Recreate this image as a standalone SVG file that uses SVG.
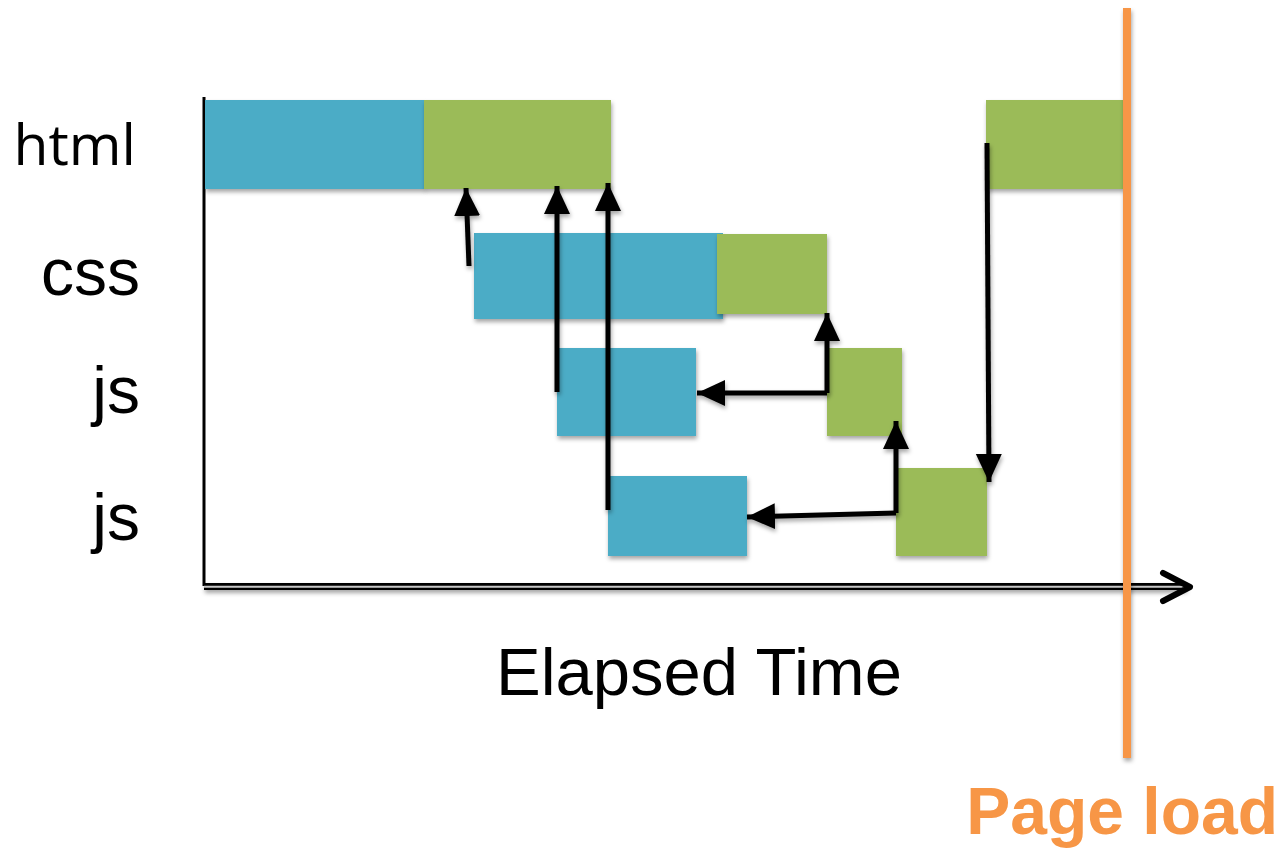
<svg xmlns="http://www.w3.org/2000/svg" width="1283" height="848" viewBox="0 0 1283 848">
  <style>
    .blue { fill: #4BACC6; }
    .green { fill: #9BBB59; }
    .bar { filter: url(#shadow); }
    .label { font-family: "Liberation Sans", Arial, sans-serif; font-size: 66px; fill: #000; }
    .link { fill: none; stroke: #000; stroke-width: 5; marker-end: url(#head); filter: url(#shadow); }
  </style>
  <defs>
    <filter id="shadow" filterUnits="userSpaceOnUse" x="0" y="0" width="1283" height="848">
      <feDropShadow dx="1" dy="3" stdDeviation="2" flood-color="#000" flood-opacity="0.35"/>
    </filter>
    <marker id="head" markerUnits="userSpaceOnUse" markerWidth="30" markerHeight="28" refX="28" refY="13" orient="auto">
      <path d="M0,0 L28,13 L0,26 Z" fill="#000"/>
    </marker>
  </defs>

  <rect width="1283" height="848" fill="#fff"/>

  <!-- row labels -->
  <text class="label" x="136" y="165" text-anchor="end" style="font-family:'Open Sans','Liberation Sans',sans-serif;font-size:57px">html</text>
  <text class="label" x="140" y="295" text-anchor="end">css</text>
  <text class="label" x="140" y="413" text-anchor="end">js</text>
  <text class="label" x="140" y="540" text-anchor="end">js</text>

  <!-- axes -->
  <g id="axes">
    <line x1="204" y1="97" x2="204" y2="586" stroke="#000" stroke-width="3"/>
    <line x1="204" y1="586.5" x2="1186" y2="586.5" stroke="#000" stroke-width="7" filter="url(#shadow)"/>
    <line x1="204" y1="586.8" x2="1186" y2="586.8" stroke="#c8c8c8" stroke-width="2"/>
    <polyline points="1163,573 1190,587 1163,601" fill="none" stroke="#000" stroke-width="6" stroke-linecap="round" stroke-linejoin="round"/>
  </g>

  <!-- html -->
  <g id="html">
    <rect class="bar blue" x="205" y="100" width="220" height="89"/>
    <rect class="bar green" x="424" y="100" width="187" height="89"/>
  </g>
  <g id="html-late">
    <rect class="bar green" x="986" y="100" width="138" height="89"/>
  </g>

  <!-- css -->
  <g id="css">
    <rect class="bar blue" x="474" y="233" width="249" height="86"/>
    <rect class="bar green" x="717" y="234" width="110" height="80"/>
  </g>

  <!-- js 1 -->
  <g id="js1">
    <rect class="bar blue" x="557" y="348" width="139" height="88"/>
    <rect class="bar green" x="827" y="348" width="75" height="88"/>
  </g>

  <!-- js 2 -->
  <g id="js2">
    <rect class="bar blue" x="608" y="476" width="139" height="80"/>
    <rect class="bar green" x="896" y="468" width="91" height="88"/>
  </g>

  <!-- dependency arrows -->
  <g id="connectors">
    <line class="link" x1="469" y1="266" x2="466" y2="188"/>
    <line class="link" x1="557" y1="392" x2="557" y2="186"/>
    <line class="link" x1="608" y1="510" x2="608" y2="183"/>
    <polyline class="link" points="827,393 827,313"/>
    <polyline class="link" points="827,393 697,393"/>
    <polyline class="link" points="896,513 896,421"/>
    <polyline class="link" points="896,513 747,517"/>
    <line class="link" x1="987" y1="143" x2="989" y2="482"/>
  </g>

  <!-- page load marker -->
  <g id="page-load">
    <line x1="1127" y1="8" x2="1127" y2="758" stroke="#F79646" stroke-width="8" filter="url(#shadow)"/>
    <text x="1278" y="834" text-anchor="end" style="font-family:'Liberation Sans',Arial,sans-serif;font-size:66px;font-weight:bold;fill:#F79646">Page load</text>
  </g>

  <text class="label" x="496" y="695" style="font-size:67px">Elapsed Time</text>
</svg>
